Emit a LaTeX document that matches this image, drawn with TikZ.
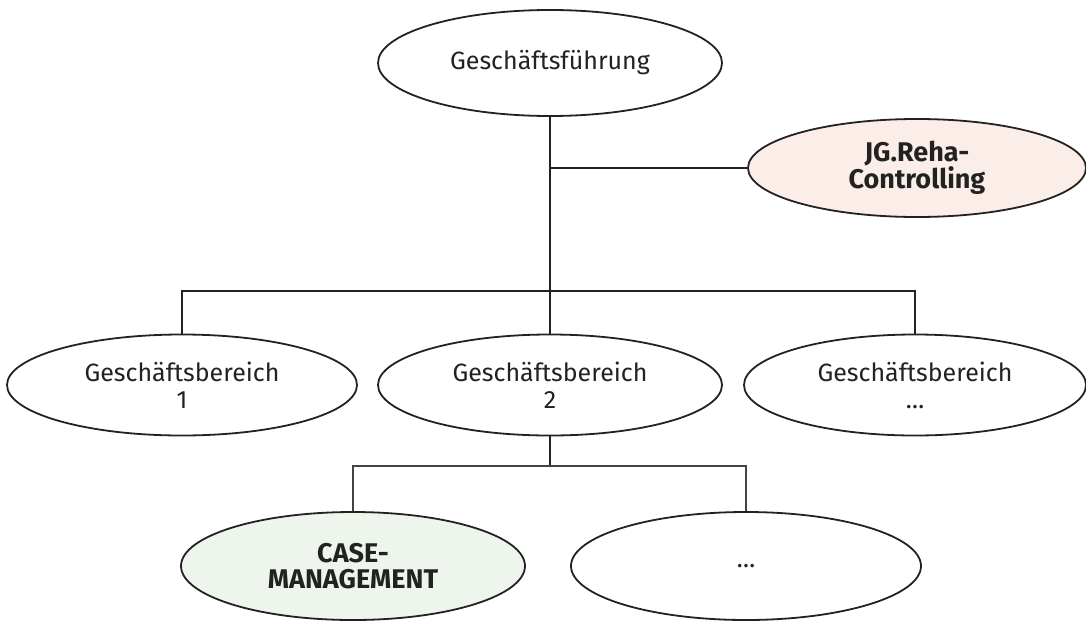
\documentclass[tikz,border=0pt]{standalone}
\usepackage{fontspec}
\setmainfont{Fira Sans}[BoldFont={Fira Sans Bold}]
\usetikzlibrary{shapes.geometric}
\definecolor{txt}{HTML}{222222}
\definecolor{pinkfill}{HTML}{FBEDE8}
\definecolor{greenfill}{HTML}{EEF5EC}
\tikzset{
  unit/.style={ellipse, draw=txt, line width=1.8pt, inner sep=0pt, text=txt, align=center, font=\fontsize{25}{27}\selectfont},
  boldunit/.style={unit, font=\fontsize{27}{26}\selectfont\bfseries},
  mainline/.style={draw=txt, line width=2pt},
  subline/.style={draw=txt!85, line width=1.3pt}
}
\begin{document}
\begin{tikzpicture}[x=1pt,y=-1pt]
\useasboundingbox (0,0) rectangle (1086,621);
\node[unit, minimum width=344pt, minimum height=106pt] (gf) at (550,63) {Geschäftsführung};
\node[boldunit, fill=pinkfill, minimum width=338pt, minimum height=98pt] (jg) at (917,168) {JG.Reha-\\Controlling};
\node[unit, minimum width=350pt, minimum height=101pt] (gb1) at (182,385) {Geschäftsbereich\\1};
\node[unit, minimum width=344pt, minimum height=101pt] (gb2) at (550,385) {Geschäftsbereich\\2};
\node[unit, minimum width=342pt, minimum height=101pt] (gb3) at (915,385) {Geschäftsbereich\\…};
\node[boldunit, fill=greenfill, minimum width=344pt, minimum height=108pt] (cm) at (353,566) {CASE-\\MANAGEMENT};
\node[unit, minimum width=350pt, minimum height=108pt] (dots) at (746,566) {…};
\coordinate (j1) at (550,291);
\coordinate (j2) at (550,466);
\draw[mainline] (gf.south) -- (j1);
\draw[mainline] (gf.south |- jg.west) -- (jg.west);
\draw[mainline] (gb1.north) |- (j1) -| (gb3.north);
\draw[mainline] (j1) -- (gb2.north);
\draw[mainline] (gb2.south) -- (j2);
\draw[subline] (cm.north) |- (j2) -| (dots.north);
\end{tikzpicture}
\end{document}
